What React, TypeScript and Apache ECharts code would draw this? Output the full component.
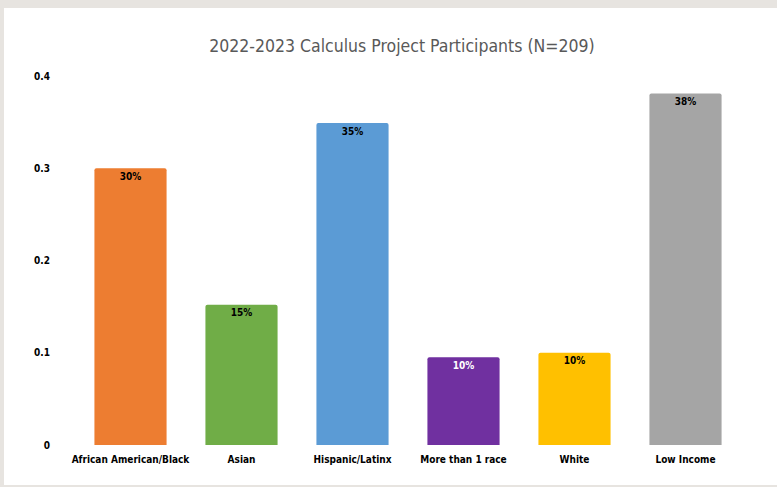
import React, { useEffect, useRef } from "react";
import * as echarts from "echarts";

const titleText = "2022-2023 Calculus Project Participants (N=209)";
const categories = ["African American/Black", "Asian", "Hispanic/Latinx", "More than 1 race", "White", "Low Income"];
const values = [0.30, 0.152, 0.349, 0.095, 0.10, 0.381];
const barColors = ["#ED7D31", "#70AD47", "#5B9BD5", "#7030A0", "#FFC000", "#A5A5A5"];
const labelColors = ["#000000", "#000000", "#000000", "#ffffff", "#000000", "#000000"];
const yTicks = { min: 0, max: 0.4, interval: 0.1 };

const FONT = "'Liberation Sans Narrow', 'DejaVu Sans Condensed', 'Open Sans', sans-serif";

export default function App() {
  const ref = useRef<HTMLDivElement>(null);
  useEffect(() => {
    if (!ref.current) return;
    const chart = echarts.init(ref.current, null, { renderer: "svg" });
    chart.setOption({
      animation: false,
      backgroundColor: "#ffffff",
      title: {
        text: titleText,
        left: 393,
        top: 24,
        textAlign: "center",
        textStyle: { fontFamily: FONT, fontSize: 17.5, fontWeight: "normal", color: "#595959" },
      },
      grid: { left: 71, right: 36, top: 68, bottom: 40, containLabel: false },
      xAxis: {
        type: "category",
        data: categories,
        axisLine: { show: false },
        axisTick: { show: false },
        axisLabel: { interval: 0, margin: 9, fontFamily: FONT, fontSize: 10, fontWeight: "bold", color: "#000000" },
      },
      yAxis: {
        type: "value",
        min: yTicks.min,
        max: yTicks.max,
        interval: yTicks.interval,
        splitLine: { show: false },
        axisLine: { show: false },
        axisTick: { show: false },
        axisLabel: { margin: 25, fontFamily: FONT, fontSize: 10, fontWeight: "bold", color: "#000000" },
      },
      series: [
        {
          type: "bar",
          barWidth: "65%",
          data: values.map((v, i) => ({
            value: v,
            itemStyle: { color: barColors[i], borderRadius: [2, 2, 0, 0] },
            label: { color: labelColors[i] },
          })),
          label: {
            show: true,
            position: "insideTop",
            distance: 3,
            fontFamily: FONT,
            fontSize: 10,
            fontWeight: "bold",
            formatter: (p: any) => Math.round(p.value * 100) + "%",
          },
        },
      ],
    });
    return () => chart.dispose();
  }, []);
  return (
    <div style={{ position: "fixed", left: 0, top: 0, width: 777, height: 487, background: "#e7e4e0" }}>
      <div ref={ref} style={{ position: "absolute", left: 4, top: 8, width: 773, height: 477 }} />
    </div>
  );
}
